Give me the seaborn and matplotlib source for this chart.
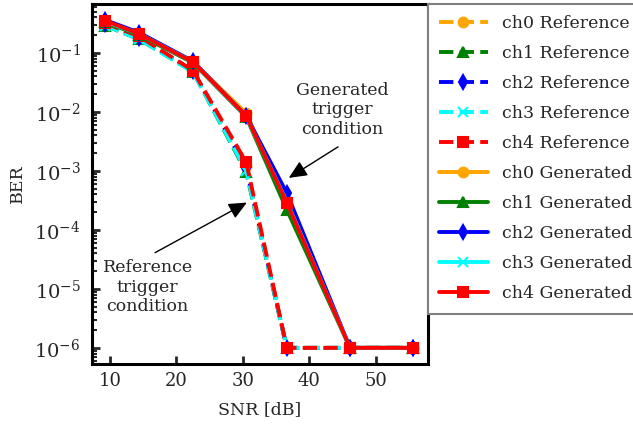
import numpy as np
import pandas as pd
import seaborn as sns
import matplotlib
matplotlib.use("Agg")
import matplotlib.pyplot as plt

# SNR points (dB)
snr = [9.3, 14.4, 22.5, 30.5, 36.6, 46.1, 55.6]

# BER for the reference trigger condition (dashed)
ch0_ref = [0.30, 0.18, 0.050, 1.2e-3, 1e-6, 1e-6, 1e-6]
ch1_ref = [0.29, 0.17, 0.048, 9.5e-4, 1e-6, 1e-6, 1e-6]
ch2_ref = [0.31, 0.18, 0.050, 1.1e-3, 1e-6, 1e-6, 1e-6]
ch3_ref = [0.29, 0.17, 0.047, 1.0e-3, 1e-6, 1e-6, 1e-6]
ch4_ref = [0.32, 0.19, 0.050, 1.4e-3, 1e-6, 1e-6, 1e-6]

# BER for the generated trigger condition (solid)
ch0_gen = [0.35, 0.21, 0.070, 9.5e-3, 2.8e-4, 1e-6, 1e-6]
ch1_gen = [0.33, 0.20, 0.068, 8.2e-3, 2.2e-4, 1e-6, 1e-6]
ch2_gen = [0.36, 0.22, 0.072, 8.5e-3, 4.2e-4, 1e-6, 1e-6]
ch3_gen = [0.34, 0.21, 0.070, 8.3e-3, 3.0e-4, 1e-6, 1e-6]
ch4_gen = [0.35, 0.21, 0.070, 8.5e-3, 2.9e-4, 1e-6, 1e-6]

channels = ["ch0", "ch1", "ch2", "ch3", "ch4"]
colors = ["orange", "green", "blue", "cyan", "red"]
markers = ["o", "^", "d", "x", "s"]

sns.set_style("ticks")
plt.rcParams["font.family"] = ["DejaVu Serif"]
plt.rcParams["mathtext.fontset"] = "cm"

fig = plt.figure(figsize=(6.33, 4.28), dpi=100)
ax = fig.add_axes([0.145, 0.150, 0.531, 0.841])

ref_sets = [ch0_ref, ch1_ref, ch2_ref, ch3_ref, ch4_ref]
gen_sets = [ch0_gen, ch1_gen, ch2_gen, ch3_gen, ch4_gen]

for name, vals, c, m in zip(channels, ref_sets, colors, markers):
    sns.lineplot(x=snr, y=vals, ax=ax, color=c, marker=m, linestyle="--",
                 linewidth=2.8, markersize=7, markeredgewidth=1.5,
                 markeredgecolor=c, label=f"{name} Reference")

for name, vals, c, m in zip(channels, gen_sets, colors, markers):
    sns.lineplot(x=snr, y=vals, ax=ax, color=c, marker=m, linestyle="-",
                 linewidth=2.8, markersize=7, markeredgewidth=1.5,
                 markeredgecolor=c, label=f"{name} Generated")

ax.set_yscale("log")
ax.set_xlim(7.3, 57.8)
ax.set_ylim(10 ** -6.27, 10 ** -0.17)
ax.set_yticks([1e-6, 1e-5, 1e-4, 1e-3, 1e-2, 1e-1])
ax.set_xticks([10, 20, 30, 40, 50])

for side in ["left", "right", "top", "bottom"]:
    ax.spines[side].set_linewidth(2.2)
    ax.spines[side].set_color("black")
ax.tick_params(which="major", direction="in", length=6, width=2)
ax.tick_params(which="minor", direction="in", length=3.5, width=1.5)
ax.tick_params(axis="y", which="major", labelsize=14, pad=8)
ax.tick_params(axis="x", which="major", labelsize=13, pad=6)
ax.tick_params(axis="x", which="minor", bottom=False)

ax.set_xlabel("SNR [dB]", fontsize=12.5, labelpad=8)
ax.set_ylabel("BER", fontsize=12.5, labelpad=6)

# annotation texts and arrows
ax.text(45.0, 1.08e-2, "Generated\ntrigger\ncondition", ha="center", va="center",
        fontsize=12.5)
ax.annotate("", xy=(36.9, 7.6e-4), xytext=(44.3, 2.55e-3),
            arrowprops=dict(arrowstyle="-|>,head_length=0.55,head_width=0.25",
                            color="black", lw=1.0, mutation_scale=20,
                            shrinkA=0, shrinkB=0))
ax.text(15.7, 1.07e-5, "Reference\ntrigger\ncondition", ha="center", va="center",
        fontsize=12.5)
ax.annotate("", xy=(30.6, 2.9e-4), xytext=(16.8, 4.1e-5),
            arrowprops=dict(arrowstyle="-|>,head_length=0.55,head_width=0.25",
                            color="black", lw=1.0, mutation_scale=20,
                            shrinkA=0, shrinkB=0))

leg = ax.legend(loc="upper left", bbox_to_anchor=(1.0, 1.0), borderaxespad=0.0,
                fontsize=12.5, handlelength=2.8, handletextpad=0.8,
                labelspacing=0.75, borderpad=0.65, frameon=True,
                fancybox=False, framealpha=1.0)
leg.get_frame().set_edgecolor("gray")
leg.get_frame().set_linewidth(1.5)

fig.savefig("out.png", dpi=100)
